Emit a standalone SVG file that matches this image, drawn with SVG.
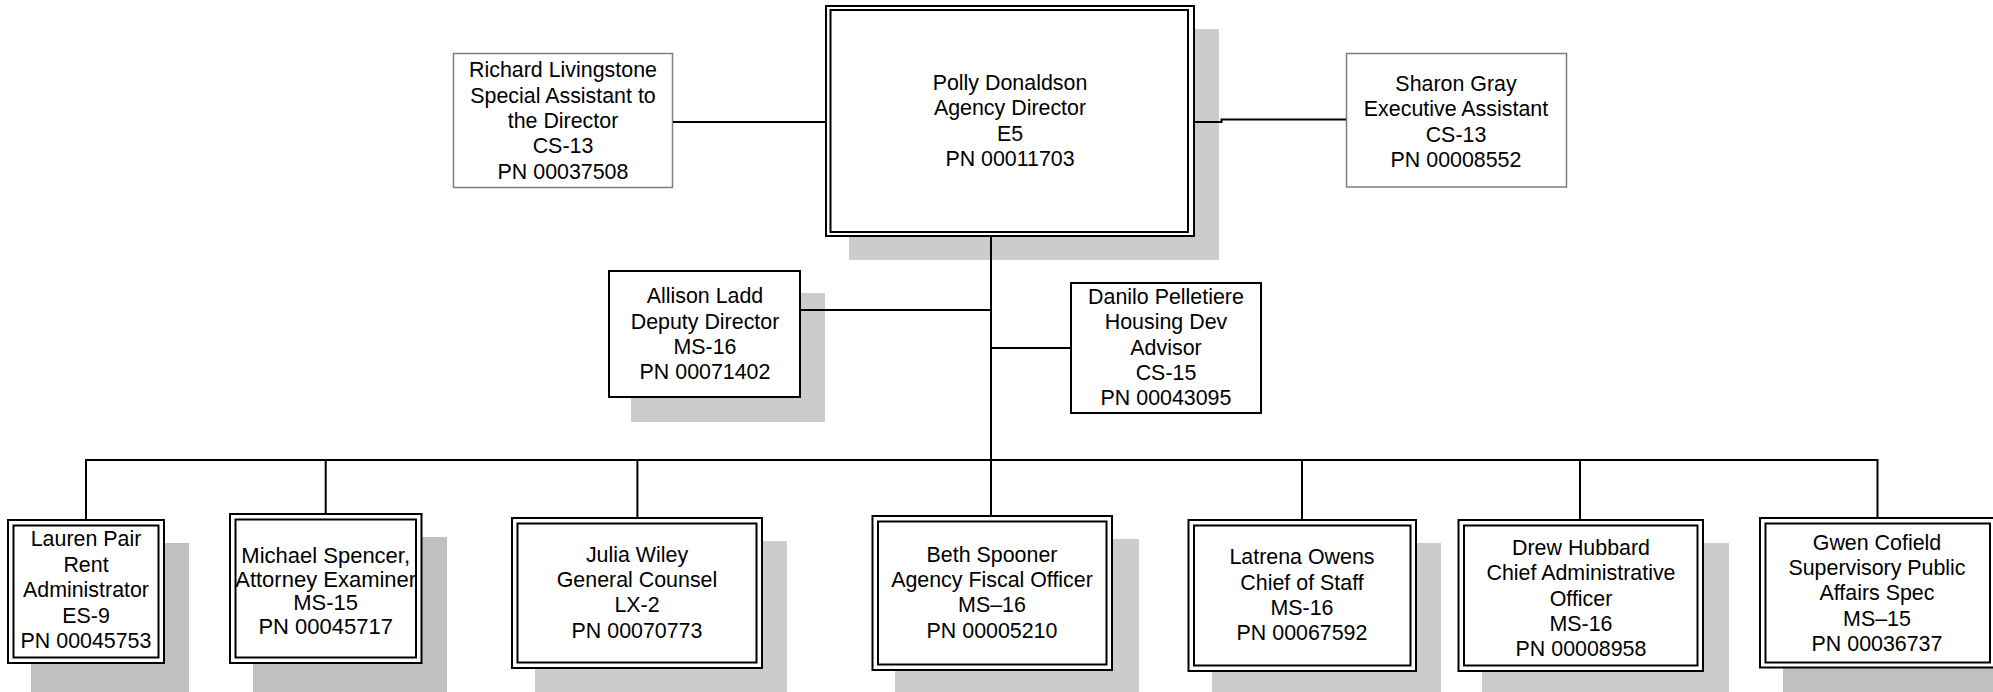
<svg xmlns="http://www.w3.org/2000/svg" width="1993" height="692" viewBox="0 0 1993 692">
<style>
text{font-family:"Liberation Sans",Arial,sans-serif;font-size:21.4px;fill:#000;text-anchor:middle}
.big text{font-size:22px}
.sh{fill:#cccccc}
.sh2{fill:#c0c0c0}
.thin{fill:#fff;stroke:#7f7f7f;stroke-width:1.5}
.single{fill:#fff;stroke:#000;stroke-width:2}
.dbl{fill:#fff;stroke:#000;stroke-width:2}
.dbli{fill:none;stroke:#000;stroke-width:2}
.conn{fill:none;stroke:#000;stroke-width:2}
</style>
<g id="polly">
<rect class="sh" x="849" y="29" width="370" height="231"/>
<rect class="dbl" x="826" y="6" width="368" height="230"/>
<rect class="dbli" x="830.5" y="10" width="357.5" height="222"/>
<text x="1010" y="89.8">Polly Donaldson</text>
<text x="1010" y="115.3">Agency Director</text>
<text x="1010" y="140.6">E5</text>
<text x="1010" y="165.9">PN 00011703</text>
</g>
<g id="richard">
<rect class="thin" x="453.5" y="53.5" width="219" height="134"/>
<text x="563" y="77.3">Richard Livingstone</text>
<text x="563" y="102.6">Special Assistant to</text>
<text x="563" y="127.9">the Director</text>
<text x="563" y="153.2">CS-13</text>
<text x="563" y="178.5">PN 00037508</text>
</g>
<g id="sharon">
<rect class="thin" x="1346.5" y="53.5" width="220" height="133.5"/>
<text x="1456" y="90.8">Sharon Gray</text>
<text x="1456" y="116.3">Executive Assistant</text>
<text x="1456" y="141.6">CS-13</text>
<text x="1456" y="166.9">PN 00008552</text>
</g>
<g id="allison">
<rect class="sh" x="631" y="293" width="194" height="129"/>
<rect class="single" x="609" y="271" width="191" height="126"/>
<text x="705" y="303.2">Allison Ladd</text>
<text x="705" y="328.5">Deputy Director</text>
<text x="705" y="353.8">MS-16</text>
<text x="705" y="379.1">PN 00071402</text>
</g>
<g id="danilo">
<rect class="single" x="1071" y="283" width="190" height="130"/>
<text x="1166" y="304">Danilo Pelletiere</text>
<text x="1166" y="329.3">Housing Dev</text>
<text x="1166" y="354.6">Advisor</text>
<text x="1166" y="379.9">CS-15</text>
<text x="1166" y="405.2">PN 00043095</text>
</g>
<g id="lauren">
<rect class="sh2" x="31" y="543" width="158" height="149"/>
<rect class="dbl" x="8" y="520" width="156" height="143"/>
<rect class="dbli" x="13.5" y="525.5" width="145" height="132"/>
<text x="86" y="546.3">Lauren Pair</text>
<text x="86" y="571.8">Rent</text>
<text x="86" y="597.3">Administrator</text>
<text x="86" y="622.8">ES-9</text>
<text x="86" y="648.3">PN 00045753</text>
</g>
<g id="michael" class="big">
<rect class="sh2" x="253" y="537" width="194" height="155"/>
<rect class="dbl" x="230" y="514" width="191.5" height="149"/>
<rect class="dbli" x="235.5" y="519.5" width="180.5" height="138"/>
<text x="325.7" y="563.3">Michael Spencer,</text>
<text x="325.7" y="586.8">Attorney Examiner</text>
<text x="325.7" y="610.3">MS-15</text>
<text x="325.7" y="633.8">PN 00045717</text>
</g>
<g id="julia">
<rect class="sh" x="535" y="541" width="252" height="151"/>
<rect class="dbl" x="512" y="518" width="250" height="150"/>
<rect class="dbli" x="517.5" y="523.5" width="239" height="139"/>
<text x="637" y="561.6">Julia Wiley</text>
<text x="637" y="586.9">General Counsel</text>
<text x="637" y="612.2">LX-2</text>
<text x="637" y="637.5">PN 00070773</text>
</g>
<g id="beth">
<rect class="sh" x="895" y="539" width="244" height="153"/>
<rect class="dbl" x="872.5" y="516" width="239.5" height="154"/>
<rect class="dbli" x="878" y="521.5" width="228.5" height="143"/>
<text x="992" y="561.6">Beth Spooner</text>
<text x="992" y="586.9">Agency Fiscal Officer</text>
<text x="992" y="612.2">MS–16</text>
<text x="992" y="637.5">PN 00005210</text>
</g>
<g id="latrena">
<rect class="sh" x="1212" y="543" width="229" height="149"/>
<rect class="dbl" x="1188.5" y="520" width="227.5" height="151"/>
<rect class="dbli" x="1194" y="525.5" width="216.5" height="140"/>
<text x="1302" y="564.3">Latrena Owens</text>
<text x="1302" y="589.6">Chief of Staff</text>
<text x="1302" y="614.9">MS-16</text>
<text x="1302" y="640.2">PN 00067592</text>
</g>
<g id="drew">
<rect class="sh" x="1482" y="543" width="247" height="149"/>
<rect class="dbl" x="1458.5" y="520" width="244.5" height="151"/>
<rect class="dbli" x="1464" y="525.5" width="233.5" height="140"/>
<text x="1581" y="555">Drew Hubbard</text>
<text x="1581" y="580.3">Chief Administrative</text>
<text x="1581" y="605.6">Officer</text>
<text x="1581" y="630.9">MS-16</text>
<text x="1581" y="656.2">PN 00008958</text>
</g>
<g id="gwen">
<rect class="sh2" x="1783" y="541" width="220" height="151"/>
<rect class="dbl" x="1760" y="518" width="235" height="149.5"/>
<rect class="dbli" x="1765.5" y="523.5" width="224.5" height="139"/>
<text x="1877" y="549.8">Gwen Cofield</text>
<text x="1877" y="575">Supervisory Public</text>
<text x="1877" y="600.3">Affairs Spec</text>
<text x="1877" y="625.5">MS–15</text>
<text x="1877" y="650.7">PN 00036737</text>
</g>
<g id="connectors">
<path class="conn" d="M673 122 H826"/>
<path class="conn" d="M1194 122 H1221.5 V119.5 H1346"/>
<path class="conn" d="M991 236 V460"/>
<path class="conn" d="M800 310 H991"/>
<path class="conn" d="M991 348 H1071"/>
<path class="conn" d="M86 460 H1878"/>
<path class="conn" d="M86 459 V520"/>
<path class="conn" d="M325.7 459 V514"/>
<path class="conn" d="M637.4 459 V518"/>
<path class="conn" d="M991 459 V516"/>
<path class="conn" d="M1302 459 V520"/>
<path class="conn" d="M1580 459 V520"/>
<path class="conn" d="M1877.5 459 V518"/>
</g>
</svg>
